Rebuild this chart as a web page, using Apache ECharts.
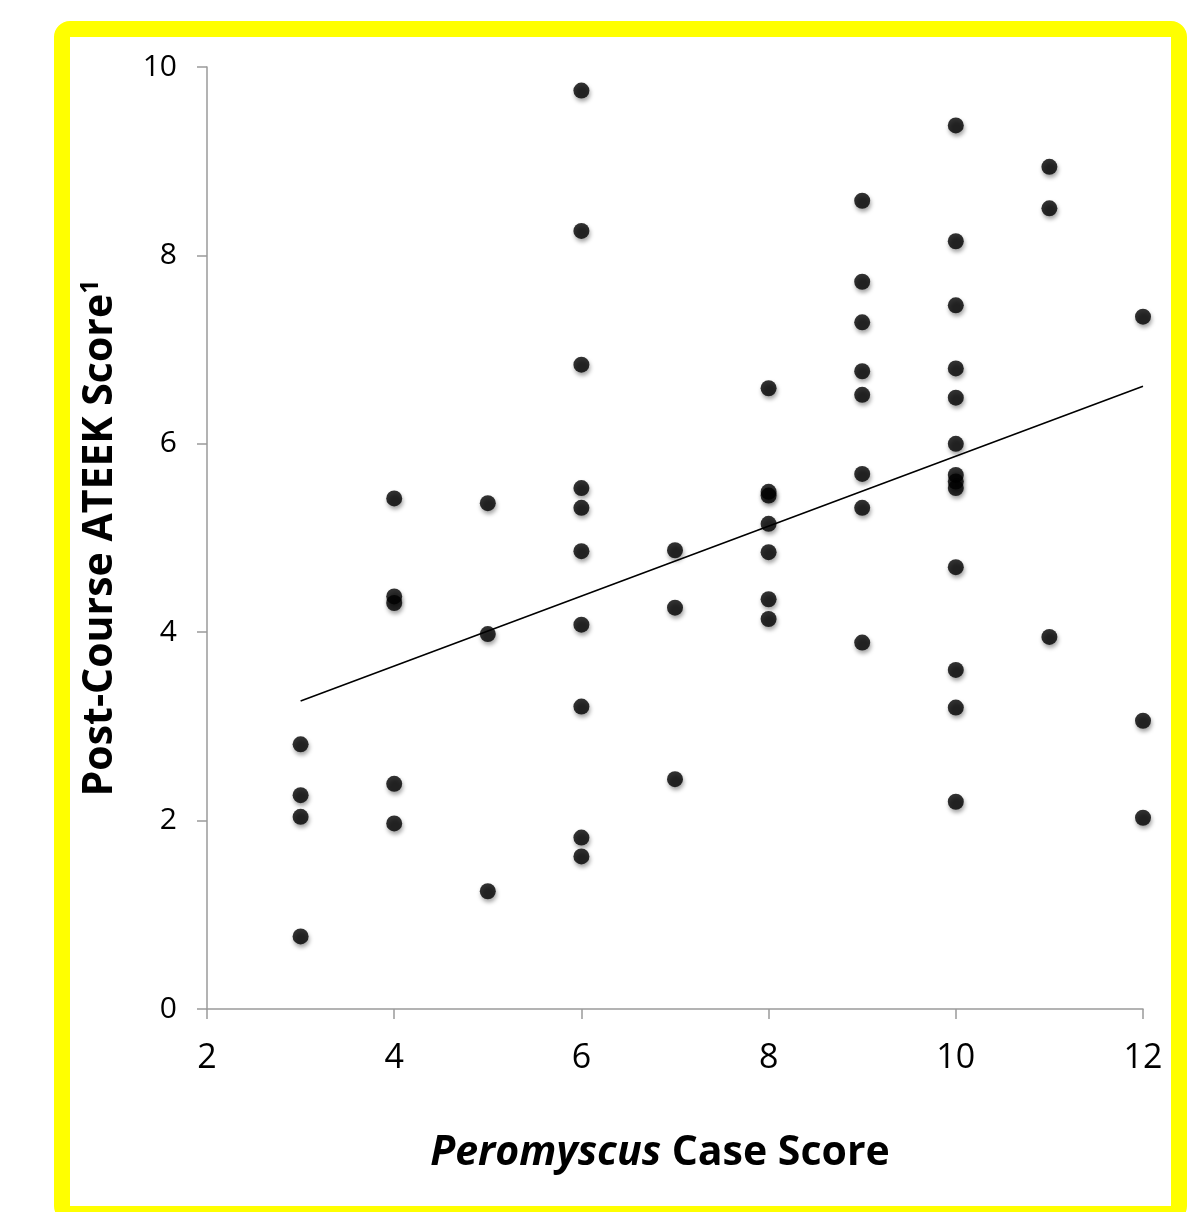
<!DOCTYPE html>
<html>
<head>
<meta charset="utf-8">
<script src="https://cdn.jsdelivr.net/npm/echarts@6/dist/echarts.min.js"></script>
<style>html,body{margin:0;padding:0;background:#fff;}#c{width:1190px;height:1212px;}</style>
</head>
<body>
<div id="c"></div>
<script>
// Peromyscus case score (x) and post-course ATEEK score (y)
const caseScore = [
  3,3,3,3,
  4,4,4,4,4,
  5,5,5,
  6,6,6,6,6,6,6,6,6,6,
  7,7,7,
  8,8,8,8,8,8,8,
  9,9,9,9,9,9,9,9,
  10,10,10,10,10,10,10,10,10,10,10,10,10,
  11,11,11,
  12,12,12
];
const ateekScore = [
  2.81,2.27,2.04,0.77,
  5.42,4.38,4.31,2.39,1.97,
  5.37,3.98,1.25,
  9.75,8.26,6.84,5.53,5.32,4.86,4.08,3.21,1.82,1.62,
  4.87,4.26,2.44,
  6.59,5.49,5.45,5.15,4.85,4.35,4.14,
  8.58,7.72,7.29,6.77,6.52,5.68,5.32,3.89,
  9.38,8.15,7.47,6.80,6.49,6.00,5.67,5.60,5.53,4.69,3.60,3.20,2.20,
  8.94,8.50,3.95,
  7.35,3.06,2.03
];
const trendX = [3, 12];
const trendY = [3.27, 6.61];
const xTicks = [2, 4, 6, 8, 10, 12];
const yTicks = [0, 2, 4, 6, 8, 10];

const points = caseScore.map((x, i) => [x, ateekScore[i]]);
const trend = trendX.map((x, i) => [x, trendY[i]]);

const font = '"Open Sans", "Noto Sans", sans-serif';
const axisGray = '#9a9a9a';

const chart = echarts.init(document.getElementById('c'));
chart.setOption({
  backgroundColor: '#fff',
  animation: false,
  grid: { left: 207, right: 47, top: 67, bottom: 203, containLabel: false },
  graphic: [
    { type: 'rect', shape: { x: 62, y: 29, width: 1117, height: 1185, r: 8 },
      style: { fill: 'none', stroke: '#FFFF00', lineWidth: 16 }, z: -1 }
  ],
  xAxis: {
    type: 'value', min: xTicks[0], max: xTicks[xTicks.length - 1], interval: 2,
    splitLine: { show: false },
    axisLine: { lineStyle: { color: axisGray, width: 1.5 } },
    axisTick: { length: 10, lineStyle: { color: axisGray, width: 1.5 } },
    axisLabel: { fontFamily: font, fontSize: 34, color: '#000', margin: 32 },
    name: '{i|Peromyscus} {b|Case Score}',
    nameLocation: 'middle', nameGap: 124,
    nameTextStyle: {
      fontFamily: font, fontSize: 41, color: '#000', padding: [0, 30, 0, 0],
      rich: {
        i: { fontFamily: font, fontSize: 41, fontWeight: 'bold', fontStyle: 'italic', color: '#000' },
        b: { fontFamily: font, fontSize: 41, fontWeight: 'bold', color: '#000' }
      }
    }
  },
  yAxis: {
    type: 'value', min: yTicks[0], max: yTicks[yTicks.length - 1], interval: 2,
    splitLine: { show: false },
    axisLine: { show: true, lineStyle: { color: axisGray, width: 1.5 } },
    axisTick: { show: true, length: 10, lineStyle: { color: axisGray, width: 1.5 } },
    axisLabel: { fontFamily: font, fontSize: 30, color: '#000', margin: 30 },
    name: '{b|Post-Course ATEEK Score}{s|1}',
    nameLocation: 'middle', nameGap: 84,
    nameTextStyle: {
      rich: {
        b: { fontFamily: font, fontSize: 41, fontWeight: 'bold', color: '#000' },
        s: { fontFamily: font, fontSize: 25, fontWeight: 'bold', color: '#000', verticalAlign: 'top', padding: [0, 0, 20, 0] }
      }
    }
  },
  series: [
    {
      type: 'scatter', data: points, symbol: 'circle', symbolSize: 16,
      itemStyle: { color: '#000', shadowBlur: 4, shadowColor: 'rgba(0,0,0,0.45)', shadowOffsetX: 1, shadowOffsetY: 3 },
      z: 3
    },
    {
      type: 'line', data: trend, symbol: 'none',
      lineStyle: { color: '#000', width: 1.6 }, z: 2
    }
  ]
});
</script>
</body>
</html>
